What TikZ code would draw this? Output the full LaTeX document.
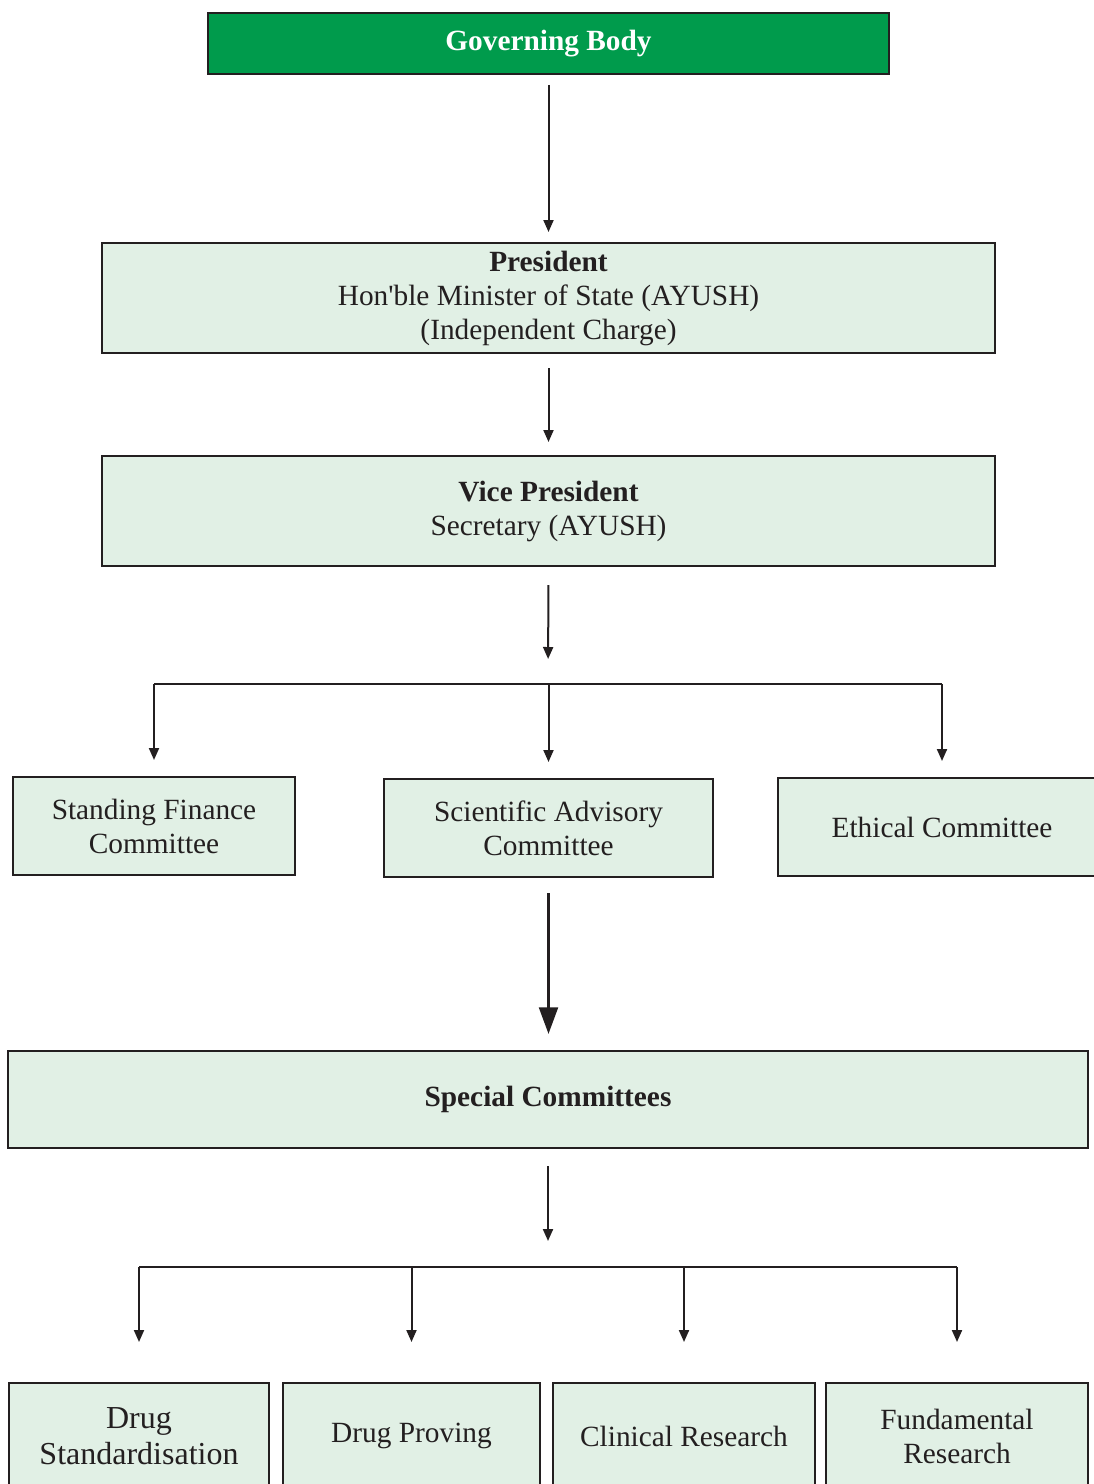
\documentclass[tikz,border=0pt]{standalone}
\usepackage{fontspec}
\setmainfont{Liberation Serif}[Ligatures=TeXOff]
\usetikzlibrary{arrows.meta}
\definecolor{gbgreen}{RGB}{0,155,76}
\definecolor{boxfill}{RGB}{225,240,229}
\definecolor{inkline}{RGB}{35,31,32}

\begin{document}
\begin{tikzpicture}[x=0.75pt,y=0.75pt,yscale=-1,xscale=1,
  box/.style={draw=inkline, line width=1.5pt, fill=boxfill, text=inkline,
    align=center, inner sep=0pt, font=\fontsize{22}{25.5}\selectfont},
  topbox/.style={box, fill=gbgreen, text=white, font=\fontsize{22}{25.5}\selectfont\bfseries},
  line/.style={draw=inkline, line width=1.5pt},
  arr/.style={line, -{Triangle[length=9pt,width=7.5pt]}},
  bigarr/.style={draw=inkline, line width=2.4pt, -{Triangle[length=20pt,width=14pt]}}]
\useasboundingbox (0,0) rectangle (1094,1484);

% Boxes
\node [topbox, minimum width=510.75pt, minimum height=45.75pt] (gov) at (548.5,43.5) {\raisebox{-2pt}{Governing Body}};
\node [box, minimum width=669.75pt, minimum height=82.5pt] (pres) at (548.5,298) {\textbf{President}\\Hon'ble Minister of State (AYUSH)\\(Independent Charge)};
\node [box, minimum width=669.75pt, minimum height=82.5pt] (vp) at (548.5,511) {\raisebox{3pt}{\textbf{Vice President}}\\\raisebox{3pt}{Secretary (AYUSH)}};
\node [box, minimum width=211.5pt, minimum height=73.5pt] (sfc) at (154,826) {Standing Finance\\Committee};
\node [box, minimum width=246.75pt, minimum height=73.5pt] (sac) at (548.5,828) {Scientific Advisory\\Committee};
\node [box, minimum width=246pt, minimum height=73.5pt] (ec) at (942,827) {Ethical Committee};
\node [box, minimum width=810pt, minimum height=72.75pt] (spc) at (548,1099.5) {\textbf{Special Committees}};
\node [box, minimum width=195pt, minimum height=79.5pt, font=\fontsize{24}{27}\selectfont] (ds) at (139,1436) {Drug\\Standardisation};
\node [box, minimum width=192.75pt, minimum height=79.5pt] (dp) at (411.5,1436) {Drug Proving};
\node [box, minimum width=196.5pt, minimum height=79.5pt] (cr) at (684,1436) {Clinical Research};
\node [box, minimum width=196.5pt, minimum height=79.5pt] (fr) at (957,1436) {Fundamental\\Research};

% Branch points
\coordinate (split1) at (548,684);
\coordinate (split2) at (548,1267);

% Arrows
\draw [arr, shorten <=7.5pt, shorten >=7.5pt] (gov) -- (pres);
\draw [arr, shorten <=10.5pt, shorten >=9.75pt] (pres) -- (vp);
\draw [arr, shorten <=13.5pt, shorten >=18.75pt] (vp.south) -- (split1);
\draw [line] (sfc.north |- split1) -- (ec.north |- split1);
\foreach \n in {sfc,sac,ec}
  \draw [arr, shorten >=12pt] (\n.north |- split1) -- (\n.north);
\draw [bigarr, shorten <=11.25pt, shorten >=12pt] (sac.south) -- (sac.south |- spc.north);
\draw [arr, shorten <=12.75pt, shorten >=19.5pt] (spc.south) -- (split2);
\draw [line] (ds.north |- split2) -- (fr.north |- split2);
\foreach \n in {ds,dp,cr,fr}
  \draw [arr, shorten >=30pt] (\n.north |- split2) -- (\n.north);

\end{tikzpicture}
\end{document}
